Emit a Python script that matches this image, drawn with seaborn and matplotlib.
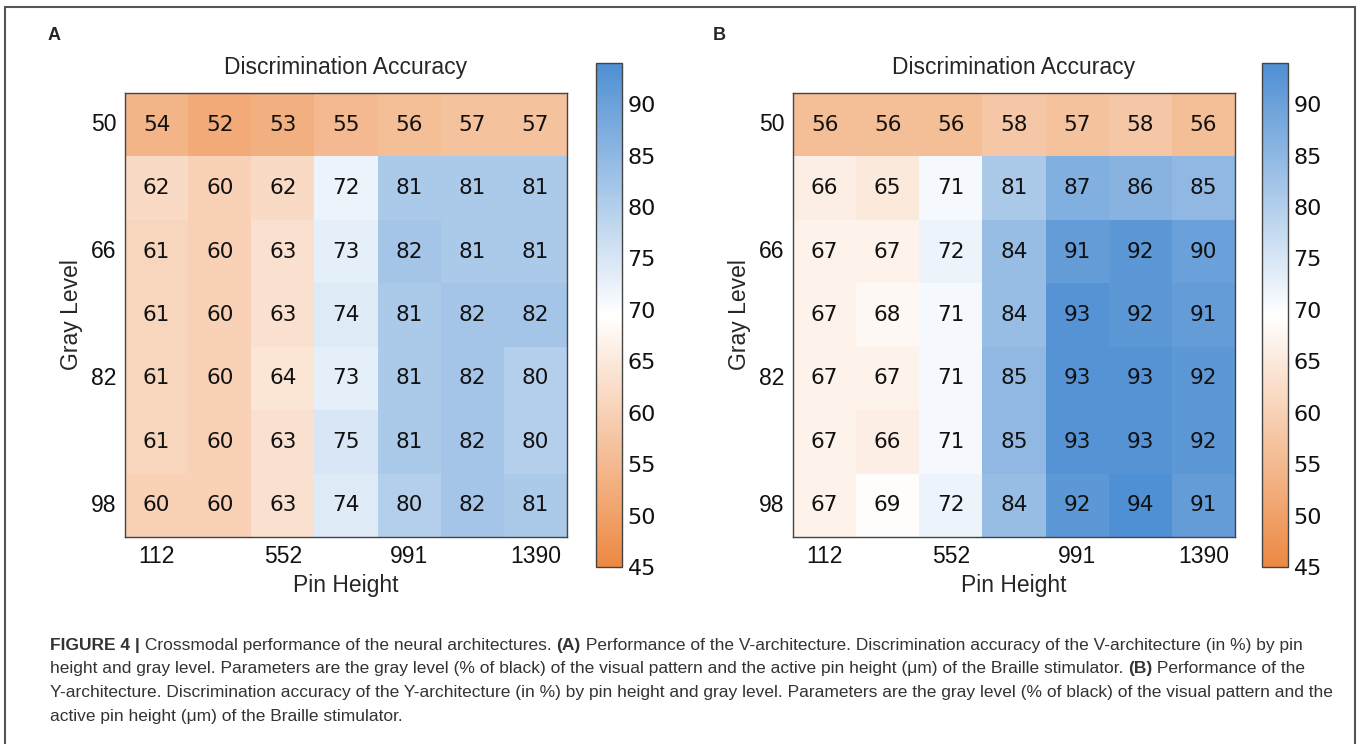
import numpy as np
import pandas as pd
import matplotlib
matplotlib.use('Agg')
import matplotlib.pyplot as plt
from matplotlib.colors import LinearSegmentedColormap
from matplotlib.patches import Rectangle
import seaborn as sns

# data
pin_height = ['112', '', '552', '', '991', '', '1390']
gray_level = ['50', '', '66', '', '82', '', '98']

acc_v = [
    [54, 52, 53, 55, 56, 57, 57],
    [62, 60, 62, 72, 81, 81, 81],
    [61, 60, 63, 73, 82, 81, 81],
    [61, 60, 63, 74, 81, 82, 82],
    [61, 60, 64, 73, 81, 82, 80],
    [61, 60, 63, 75, 81, 82, 80],
    [60, 60, 63, 74, 80, 82, 81],
]
acc_y = [
    [56, 56, 56, 58, 57, 58, 56],
    [66, 65, 71, 81, 87, 86, 85],
    [67, 67, 72, 84, 91, 92, 90],
    [67, 68, 71, 84, 93, 92, 91],
    [67, 67, 71, 85, 93, 93, 92],
    [67, 66, 71, 85, 93, 93, 92],
    [67, 69, 72, 84, 92, 94, 91],
]
cbar_ticks = [45, 50, 55, 60, 65, 70, 75, 80, 85, 90]

sns.set_style('white')
plt.rcParams['font.family'] = ['Liberation Sans', 'DejaVu Sans']

W, H = 1357, 744
fig = plt.figure(figsize=(W / 100, H / 100), dpi=100)


def px(l, t, r, b):
    return [l / W, 1 - b / H, (r - l) / W, (b - t) / H]


cmap = LinearSegmentedColormap.from_list('ob', ['#ec8943', '#ffffff', '#4f8fd3'])
edge = '#444444'


def panel(data, ax_box, cax_box, letter, letter_x):
    ax = fig.add_axes(px(*ax_box))
    cax = fig.add_axes(px(*cax_box))
    df = pd.DataFrame(data, index=gray_level, columns=range(len(pin_height)))
    sns.heatmap(df, ax=ax, cbar_ax=cax, cmap=cmap, vmin=45, vmax=94,
                annot=True, fmt='d',
                annot_kws={'fontsize': 15.5, 'color': '#111111', 'family': 'DejaVu Sans'})
    for s in ax.spines.values():
        s.set_visible(True)
        s.set_color(edge)
        s.set_linewidth(1)
    idx = [i for i, t in enumerate(pin_height) if t]
    ax.set_xticks([i + 0.5 for i in idx])
    ax.set_xticklabels([pin_height[i] for i in idx], rotation=0)
    idy = [i for i, t in enumerate(gray_level) if t]
    ax.set_yticks([i + 0.5 for i in idy])
    ax.set_yticklabels([gray_level[i] for i in idy], rotation=0)
    ax.tick_params(direction='in', length=4, width=0.8, color='#666666',
                   top=True, right=True, labelsize=16.5, pad=6, labelcolor='#111111')
    ax.set_xlabel('Pin Height', fontsize=16.5, labelpad=4)
    ax.set_ylabel('Gray Level', fontsize=16.5, labelpad=6)
    ax.set_title('Discrimination Accuracy', fontsize=16.5, pad=14)

    cbar = ax.collections[0].colorbar
    cbar.set_ticks(cbar_ticks)
    cbar.outline.set_edgecolor(edge)
    cbar.outline.set_linewidth(1)
    cax.tick_params(direction='in', length=4, width=0.8, color='#666666',
                    labelsize=16, pad=4, labelcolor='#111111')
    for t in cax.get_yticklabels():
        t.set_family('DejaVu Sans')

    fig.text(letter_x / W, 1 - 35 / H, letter, fontsize=13, fontweight='bold',
             va='center', ha='left')


panel(acc_v, (125, 93, 567, 537), (596, 63, 622, 567), 'A', 48)
panel(acc_y, (793, 93, 1235, 537), (1262, 63, 1288, 567), 'B', 713)

# frame around the figure
fig.patches.append(Rectangle((5 / W, -0.05), 1350 / W, 1.05 - 7 / H,
                             transform=fig.transFigure, fill=False,
                             edgecolor='#555555', linewidth=1.5))

# caption, pieces are (text, bold)
caption = [
    [('FIGURE 4 |', True), (' Crossmodal performance of the neural architectures. ', False),
     ('(A)', True), (' Performance of the V-architecture. Discrimination accuracy of the V-architecture (in %) by pin', False)],
    [('height and gray level. Parameters are the gray level (% of black) of the visual pattern and the active pin height (\u03bcm) of the Braille stimulator. ', False),
     ('(B)', True), (' Performance of the', False)],
    [('Y-architecture. Discrimination accuracy of the Y-architecture (in %) by pin height and gray level. Parameters are the gray level (% of black) of the visual pattern and the', False)],
    [('active pin height (\u03bcm) of the Braille stimulator.', False)],
]
line_y = [645, 668, 692, 716]
for pieces, y in zip(caption, line_y):
    last = None
    for txt, bold in pieces:
        kw = dict(fontsize=12.5, color='#333333', fontweight='bold' if bold else 'normal',
                  ha='left', va='bottom')
        if last is None:
            last = fig.text(50 / W, 1 - (y + 8) / H, txt, **kw)
        else:
            last = plt.annotate(txt, xy=(1, 0), xycoords=last, **kw)

fig.savefig('out.png', dpi=100)
